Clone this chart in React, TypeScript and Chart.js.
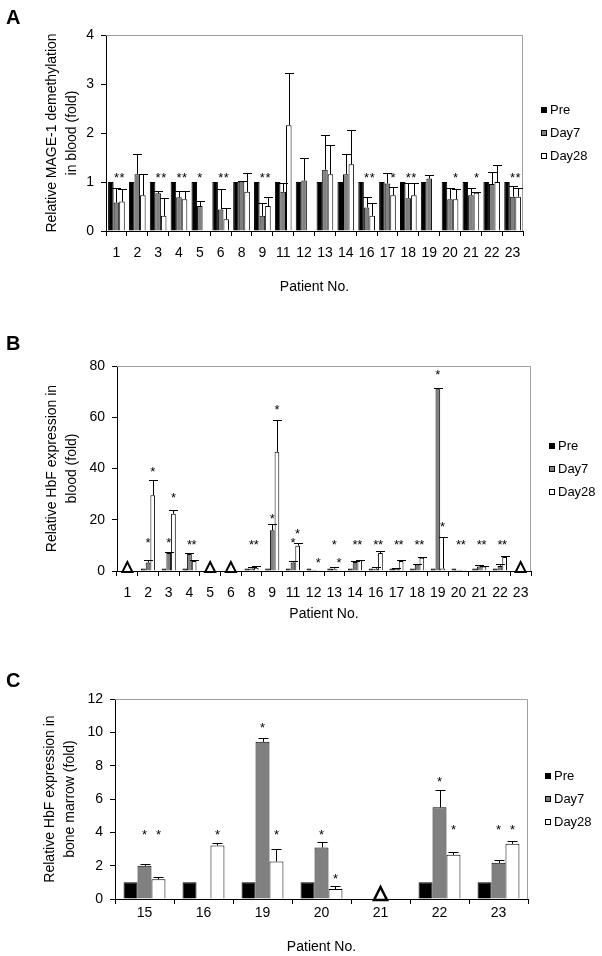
import React, { useEffect, useRef } from "react";
import { Chart, registerables } from "chart.js";
Chart.register(...registerables);

const FONT = 'Arial, "Liberation Sans", Helvetica, sans-serif';

const seriesLabels = ["Pre", "Day7", "Day28"];
const seriesColors = ["#000000", "#808080", "#ffffff"];

// ---------- Panel A: MAGE-1 demethylation in blood ----------
const patientsA = ["1","2","3","4","5","6","8","9","11","12","13","14","16","17","18","19","20","21","22","23"];
const preA = [1,1,1,1,1,1,1,1,1,1,1,1,1,1,1,1,1,1,1,1];
const day7A = [0.58,1.16,0.77,0.69,0.51,0.44,1.01,0.31,0.8,1.03,1.25,1.16,0.48,0.97,0.67,1.07,0.65,0.73,0.96,0.7];
const day7ErrA = [0.29,0.42,0.05,0.13,0.11,0.41,0.01,0.27,0.17,0.47,0.71,0.42,0.21,0.21,0.3,0.07,0.23,0.14,0.24,0.22];
const day28A = [0.6,0.73,0.31,0.65,null,0.24,0.8,0.51,2.16,null,1.16,1.36,0.31,0.73,0.73,null,0.65,0.78,1.0,0.7];
const day28ErrA = [0.25,0.43,0.36,0.17,null,0.22,0.38,0.18,1.06,null,0.6,0.7,0.27,0.16,0.24,null,0.2,0.01,0.34,0.17];
const star7A = [1.15,null,1.15,1.15,1.15,1.15,null,1.15,null,null,null,null,1.15,null,1.15,null,null,null,null,1.15];
const star28A = [1.15,null,1.15,1.15,null,1.15,null,1.15,null,null,null,null,1.15,1.15,1.15,null,1.15,1.15,null,1.15];
const trianglesA: string[] = [];

// ---------- Panel B: HbF expression in blood ----------
const patientsB = ["1","2","3","4","5","6","8","9","11","12","13","14","16","17","18","19","20","21","22","23"];
const preB = [null,1,1,1,null,null,1,1,1,1,1,1,1,1,1,1,1,1,1,null];
const day7B = [null,3.3,7,6.6,null,null,1,15.9,3.3,0.5,0.9,3.5,0.9,0.9,2.5,70.9,0.5,1.8,2,null];
const day7ErrB = [null,1.1,0.5,0.3,null,null,0.5,2.3,0.5,0,0.5,0.4,0.7,0.3,0.3,0.6,0,0.7,0.6,null];
const day28B = [null,29.6,22.3,3.9,null,null,1.3,46.5,9.9,0.3,0.5,4.2,7,3.9,5.2,1,0.5,1.8,5.5,null];
const day28ErrB = [null,5.8,1.4,0.2,null,null,0.7,12.4,1.1,0,0,0.2,0.8,0.2,0.3,12.3,0,0.2,0.4,null];
const star7B = [null,12.2,12.2,11.6,null,null,11.6,21.6,12.2,null,11.6,11.6,11.6,11.6,11.6,77.7,11.6,11.6,11.6,null];
const star28B = [null,40,29.8,11.6,null,null,11.6,64,15.9,4.4,4.4,11.6,11.6,11.6,11.6,18.5,11.6,11.6,11.6,null];
const trianglesB = ["1","5","6","23"];

// ---------- Panel C: HbF expression in bone marrow ----------
const patientsC = ["15","16","19","20","21","22","23"];
const preC = [1,1,1,1,null,1,1];
const day7C = [1.99,null,9.43,3.09,null,5.5,2.17];
const day7ErrC = [0.14,null,0.26,0.34,null,1.04,0.2];
const day28C = [1.18,3.21,2.25,0.6,null,2.65,3.31];
const day28ErrC = [0.14,0.16,0.78,0.18,null,0.18,0.16];
const star7C = [4.03,null,10.45,4.03,null,7.24,4.33];
const star28C = [4.03,4.03,4.03,1.42,null,4.33,4.33];
const trianglesC = ["21"];

type Num = number | null;
type Panel = {
  letter: string;
  labels: string[];
  pre: Num[]; d7: Num[]; d28: Num[];
  err7: Num[]; err28: Num[];
  star7: Num[]; star28: Num[];
  triangles: string[];
  yMax: number; yStep: number; yTitle: string[];
  top: number; height: number;
  padTop: number; padRight: number; yAxisWidth: number; xAxisHeight: number;
  catPct: number; xTickPad: number; xTitlePad: number; yTitlePad: number;
  capHalf: number; triW: number; triH: number; triLine: number;
  legendDx: number; letterTop: number;
};

const panels: Panel[] = [
  {
    letter: "A", labels: patientsA, pre: preA, d7: day7A, d28: day28A,
    err7: day7ErrA, err28: day28ErrA, star7: star7A, star28: star28A, triangles: trianglesA,
    yMax: 4, yStep: 1, yTitle: ["Relative MAGE-1 demethylation", "in blood (fold)"],
    top: 0, height: 310, padTop: 35, padRight: 79, yAxisWidth: 106, xAxisHeight: 79,
    catPct: 0.8, xTickPad: 9, xTitlePad: 14.6, yTitlePad: 42,
    capHalf: 4.5, triW: 10, triH: 10, triLine: 2, legendDx: 18, letterTop: 7,
  },
  {
    letter: "B", labels: patientsB, pre: preB, d7: day7B, d28: day28B,
    err7: day7ErrB, err28: day28ErrB, star7: star7B, star28: star28B, triangles: trianglesB,
    yMax: 80, yStep: 20, yTitle: ["Relative HbF expression in", "blood (fold)"],
    top: 310, height: 330, padTop: 56, padRight: 71, yAxisWidth: 117, xAxisHeight: 69,
    catPct: 0.68, xTickPad: 9, xTitlePad: 17.6, yTitlePad: 42,
    capHalf: 4.5, triW: 10, triH: 10, triLine: 2, legendDx: 18, letterTop: 333,
  },
  {
    letter: "C", labels: patientsC, pre: preC, d7: day7C, d28: day28C,
    err7: day7ErrC, err28: day28ErrC, star7: star7C, star28: star28C, triangles: trianglesC,
    yMax: 12, yStep: 2, yTitle: ["Relative HbF expression in", "bone marrow (fold)"],
    top: 640, height: 316, padTop: 59, padRight: 74, yAxisWidth: 115, xAxisHeight: 57,
    catPct: 0.71, xTickPad: 1, xTitlePad: 0.6, yTitlePad: 40,
    capHalf: 5, triW: 13, triH: 13, triLine: 2.5, legendDx: 17, letterTop: 670,
  },
];

const extrasPlugin = {
  id: "extras",
  afterDatasetsDraw(chart: any, _args: any, opts: any) {
    const ctx: CanvasRenderingContext2D = chart.ctx;
    const { left, right, top, bottom } = chart.chartArea;
    const xs = chart.scales.x;
    const ys = chart.scales.y;
    ctx.save();
    // plot frame (top & right) in gray
    ctx.strokeStyle = "#a0a0a0";
    ctx.lineWidth = 1;
    ctx.beginPath();
    ctx.moveTo(left, Math.round(top) + 0.5);
    ctx.lineTo(Math.round(right) - 0.5, Math.round(top) + 0.5);
    ctx.lineTo(Math.round(right) - 0.5, bottom);
    ctx.stroke();

    // error bars
    ctx.strokeStyle = "#000";
    ctx.lineWidth = 1;
    (opts.errors as (Num[] | null)[]).forEach((errs, di) => {
      if (!errs) return;
      const meta = chart.getDatasetMeta(di);
      const vals = chart.data.datasets[di].data as Num[];
      meta.data.forEach((el: any, i: number) => {
        const v = vals[i];
        const e = errs[i];
        if (v == null || e == null || !e) return;
        const xc = Math.round(el.x) + 0.5;
        const y0 = ys.getPixelForValue(v);
        const y1 = Math.round(ys.getPixelForValue(v + e)) + 0.5;
        ctx.beginPath();
        ctx.moveTo(xc, y0);
        ctx.lineTo(xc, y1);
        ctx.moveTo(xc - opts.capHalf, y1);
        ctx.lineTo(xc + opts.capHalf, y1);
        ctx.stroke();
      });
    });

    // significance stars
    ctx.fillStyle = "#000";
    ctx.font = `13px ${FONT}`;
    ctx.textAlign = "center";
    ctx.textBaseline = "alphabetic";
    (opts.stars as (Num[] | null)[]).forEach((st, di) => {
      if (!st) return;
      const meta = chart.getDatasetMeta(di);
      meta.data.forEach((el: any, i: number) => {
        const s = st[i];
        if (s == null) return;
        const xc = Number.isFinite(el.x) ? el.x : xs.getPixelForValue(i);
        ctx.fillText("*", xc, ys.getPixelForValue(s) + 7.4);
      });
    });

    // triangles (no data)
    const base = ys.getPixelForValue(0);
    (opts.triangles as string[]).forEach((lab) => {
      const idx = chart.data.labels.indexOf(lab);
      if (idx < 0) return;
      const xc = xs.getPixelForValue(idx);
      ctx.beginPath();
      ctx.moveTo(xc - opts.triW / 2, base + 1);
      ctx.lineTo(xc + opts.triW / 2, base + 1);
      ctx.lineTo(xc, base + 1 - opts.triH);
      ctx.closePath();
      ctx.fillStyle = "#fff";
      ctx.fill();
      ctx.lineWidth = opts.triLine;
      ctx.strokeStyle = "#000";
      ctx.stroke();
    });

    // legend
    const midY = (top + bottom) / 2;
    const lx = Math.round(right) + opts.legendDx;
    ctx.font = `13px ${FONT}`;
    ctx.textAlign = "left";
    ctx.textBaseline = "middle";
    chart.data.datasets.forEach((ds: any, di: number) => {
      const yc = Math.round(midY + (di - 1) * 23);
      ctx.fillStyle = ds.backgroundColor;
      ctx.fillRect(lx, yc - 3, 6, 6);
      ctx.lineWidth = 1;
      ctx.strokeStyle = "#000";
      ctx.strokeRect(lx + 0.5, yc - 2.5, 5, 5);
      ctx.fillStyle = "#000";
      ctx.fillText(ds.label, lx + 9, yc);
    });
    ctx.restore();
  },
};

function PanelChart({ p }: { p: Panel }) {
  const ref = useRef<HTMLCanvasElement | null>(null);
  useEffect(() => {
    if (!ref.current) return;
    const series = [p.pre, p.d7, p.d28];
    const chart = new Chart(ref.current, {
      type: "bar",
      data: {
        labels: p.labels,
        datasets: series.map((d, i) => ({
          label: seriesLabels[i],
          data: d as any,
          backgroundColor: seriesColors[i],
          borderColor: "#000",
          borderWidth: 1,
          categoryPercentage: p.catPct,
          barPercentage: 1,
        })),
      },
      options: {
        responsive: false,
        animation: false,
        devicePixelRatio: 1,
        layout: { padding: { left: 0, right: p.padRight, top: p.padTop, bottom: 0 } },
        plugins: {
          legend: { display: false },
          tooltip: { enabled: false },
          extras: {
            errors: [null, p.err7, p.err28],
            stars: [null, p.star7, p.star28],
            triangles: p.triangles,
            capHalf: p.capHalf,
            triW: p.triW, triH: p.triH, triLine: p.triLine,
            legendDx: p.legendDx,
          },
        } as any,
        scales: {
          x: {
            grid: { offset: true, drawOnChartArea: false, drawTicks: true, tickLength: 5, color: "#000" },
            border: { display: true, color: "#000", width: 1 },
            ticks: { color: "#000", font: { family: FONT, size: 14 }, padding: p.xTickPad, maxRotation: 0, autoSkip: false },
            title: {
              display: true, text: "Patient No.", color: "#000",
              font: { family: FONT, size: 14 }, padding: { top: 0, bottom: p.xTitlePad },
            },
            afterFit: (s: any) => { s.height = p.xAxisHeight; },
          },
          y: {
            min: 0, max: p.yMax,
            ticks: { stepSize: p.yStep, color: "#000", font: { family: FONT, size: 14 }, padding: 7 },
            grid: { drawOnChartArea: false, drawTicks: true, tickLength: 5, color: "#000" },
            border: { display: true, color: "#000", width: 1 },
            title: {
              display: true, text: p.yTitle, color: "#000",
              font: { family: FONT, size: 14, lineHeight: 1.45 }, padding: { top: p.yTitlePad, bottom: 0 },
            },
            afterFit: (s: any) => { s.width = p.yAxisWidth; },
          },
        },
      },
      plugins: [extrasPlugin as any],
    });
    return () => chart.destroy();
  }, [p]);
  return (
    <canvas
      ref={ref}
      width={602}
      height={p.height}
      style={{ position: "absolute", left: 0, top: p.top, width: 602, height: p.height }}
    />
  );
}

export default function App() {
  return (
    <div style={{ position: "absolute", left: 0, top: 0, width: 602, height: 956, background: "#fff", overflow: "hidden" }}>
      {panels.map((p) => (
        <React.Fragment key={p.letter}>
          <PanelChart p={p} />
          <div
            style={{
              position: "absolute", left: 6, top: p.letterTop, fontFamily: FONT,
              fontWeight: "bold", fontSize: 20, lineHeight: "20px", color: "#000",
            }}
          >
            {p.letter}
          </div>
        </React.Fragment>
      ))}
    </div>
  );
}
